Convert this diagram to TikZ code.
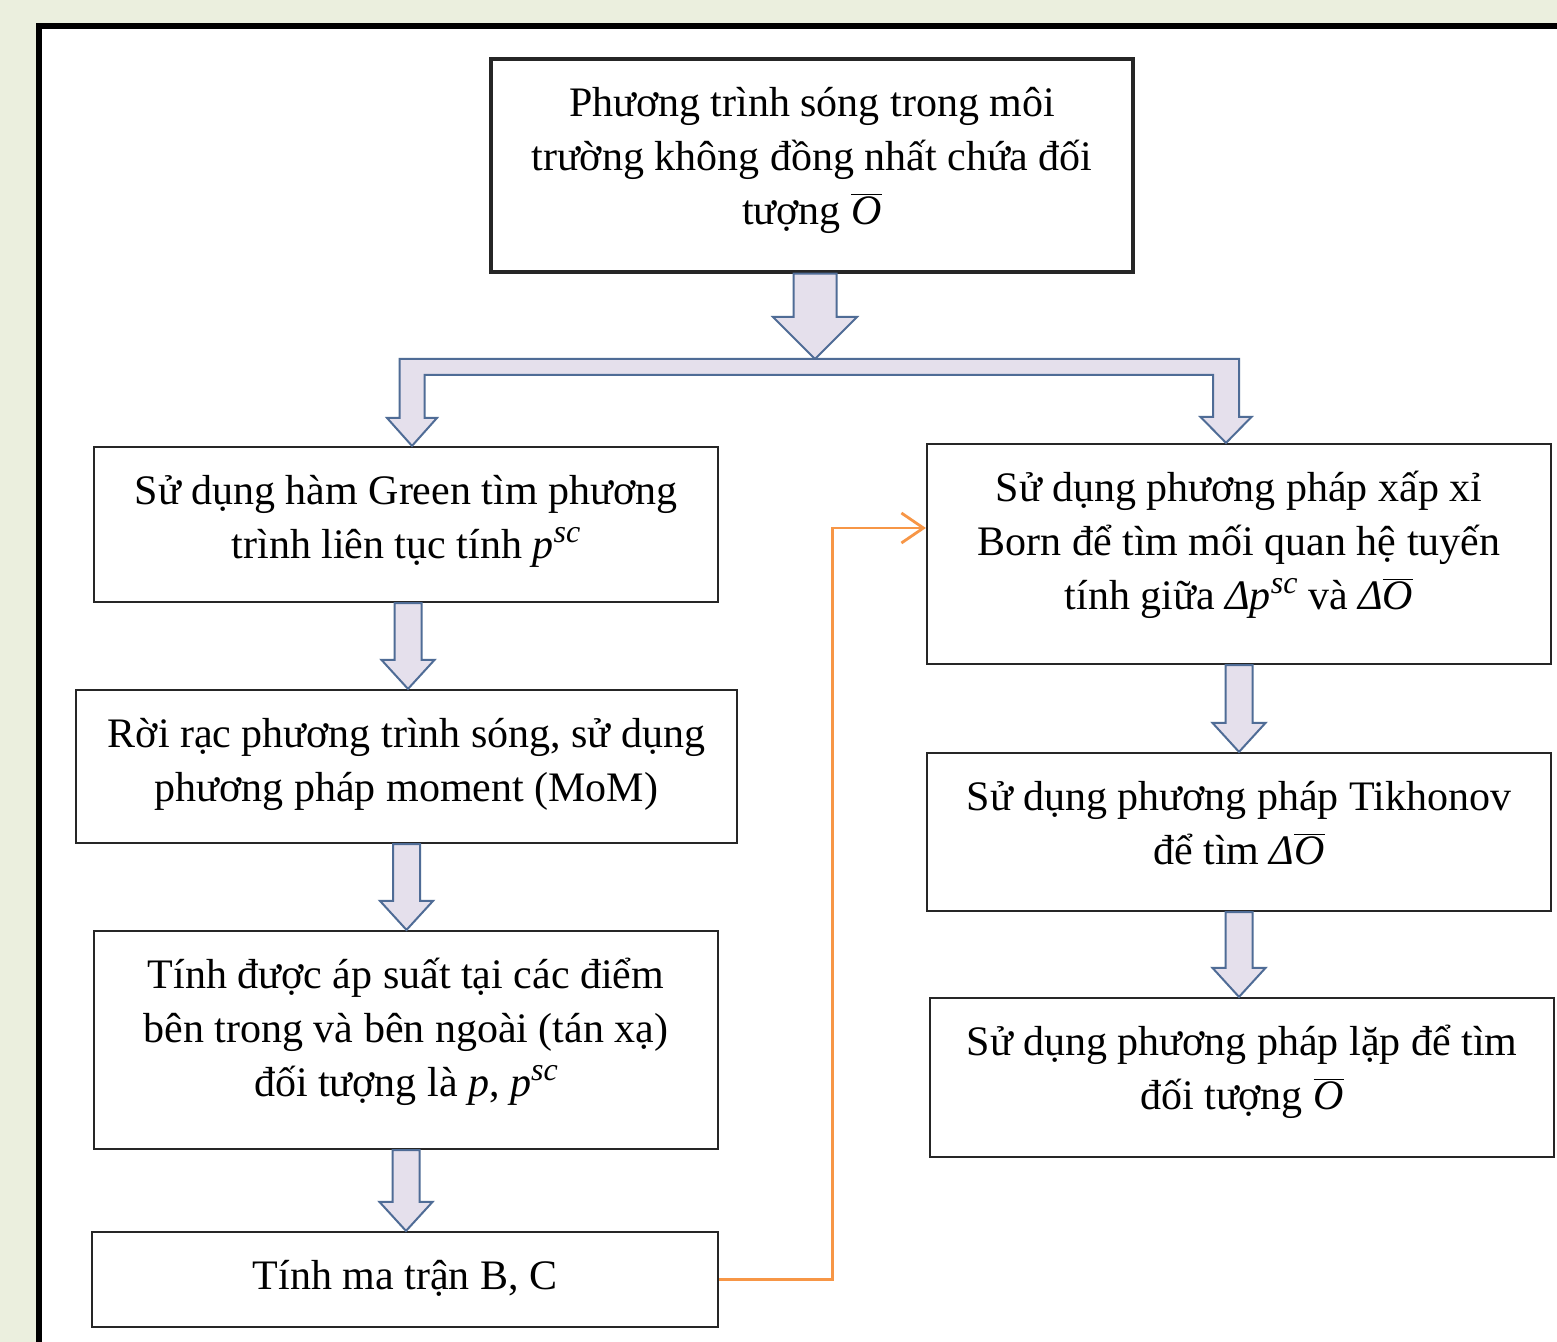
\documentclass[tikz,border=0pt]{standalone}
\usepackage{fontspec}
\setmainfont{Liberation Serif}
\usetikzlibrary{calc,arrows.meta}
\definecolor{bgpage}{RGB}{235,239,222}
\definecolor{arrfill}{RGB}{229,224,236}
\definecolor{arredge}{RGB}{79,108,150}
\definecolor{linkorange}{RGB}{247,150,70}
\newcommand{\Obar}{\ensuremath{\overline{\mbox{\itshape O}}}}
\newcommand{\psc}{\textit{p}\raisebox{8pt}{\fontsize{16}{16}\selectfont\itshape sc}}
\newcommand{\boxtxt}[3]{\parbox[c][\dimexpr#1pt-15pt\relax][t]{#2pt}{\centering\rule[-8.1pt]{0pt}{29.5pt}#3}}
% block arrow: from, to, shaft half, head half, head length
\newcommand{\blockarr}[5]{%
  \draw[blockarr] let \p1=#1, \p2=#2 in
    (\x1-#3,\y1) -- (\x1-#3,\y2+#5) -- (\x1-#4,\y2+#5) -- (\x1,\y2)
    -- (\x1+#4,\y2+#5) -- (\x1+#3,\y2+#5) -- (\x1+#3,\y1) -- cycle;}
\begin{document}
\begin{tikzpicture}[x=0.5pt, y=-0.5pt,
      hop/.style={draw=black!85, line width=1.1pt, inner xsep=0pt, inner ysep=7.5pt,
        font=\fontsize{21}{27}\selectfont},
      blockarr/.style={draw=arredge, fill=arrfill, line width=1pt},
      link/.style={draw=linkorange, line width=1.4pt, -{Straight Barb[length=11pt,width=15pt]}}]
  %Rahmen
  \useasboundingbox (0,0) rectangle (1557,1342);
  \fill[bgpage] (0,0) rectangle (1557,1342);
  \fill[white] (39,26) rectangle (1557,1342);
  \draw[line width=3pt] (39,1342) -- (39,26) -- (1557,26);
  %Kaesten
  \node[hop, line width=1.7pt] (top) at (812,165.5) {\boxtxt{106.5}{321}{Phương trình sóng trong môi\\ trường không đồng nhất chứa đối\\ tượng \Obar}};
  \node[hop] (green) at (406,524.5) {\boxtxt{77.5}{312}{Sử dụng hàm Green tìm phương\\ trình liên tục tính \psc}};
  \node[hop] (mom) at (406.5,766.5) {\boxtxt{76.5}{330.5}{Rời rạc phương trình sóng, sử dụng\\ phương pháp moment (MoM)}};
  \node[hop] (apsuat) at (406,1040) {\boxtxt{109}{312}{Tính được áp suất tại các điểm\\ bên trong và bên ngoài (tán xạ)\\ đối tượng là \textit{p}, \psc}};
  \node[hop] (matran) at (405,1279.5) {\boxtxt{47.5}{313}{Tính ma trận B, C}};
  \node[hop] (born) at (1239,554) {\boxtxt{110}{312}{Sử dụng phương pháp xấp xỉ\\ Born để tìm mối quan hệ tuyến\\ tính giữa \textit{Δ}\psc{} và \textit{Δ}\Obar}};
  \node[hop] (tikh) at (1239,832) {\boxtxt{79}{312}{Sử dụng phương pháp Tikhonov\\ để tìm \textit{Δ}\Obar}};
  \node[hop] (lap) at (1242,1077.5) {\boxtxt{79.5}{312}{Sử dụng phương pháp lặp để tìm\\ đối tượng \Obar}};
  %Verzweigung
  \coordinate (fork) at (815,359);
  \coordinate (forkL) at ([xshift=3pt]green.north);
  \coordinate (forkR) at ([xshift=-6.5pt]born.north);
  \blockarr{([xshift=1.5pt]top.south)}{(fork)}{10.75pt}{21pt}{21pt}
  \draw[blockarr] let \p1=(forkL), \p2=(forkR), \p3=(fork) in
    (\x1-6.25pt,\y3) -- (\x2+6.5pt,\y3) -- (\x2+6.5pt,\y2+13pt) -- (\x2+12.75pt,\y2+13pt)
    -- (\x2,\y2) -- (\x2-12.75pt,\y2+13pt) -- (\x2-6.5pt,\y2+13pt) -- (\x2-6.5pt,\y3-8pt)
    -- (\x1+6.25pt,\y3-8pt) -- (\x1+6.25pt,\y1+14pt) -- (\x1+12.5pt,\y1+14pt) -- (\x1,\y1)
    -- (\x1-12.5pt,\y1+14pt) -- (\x1-6.25pt,\y1+14pt) -- cycle;
  %Pfeile
  \blockarr{([xshift=1pt]green.south)}{(mom.north)}{6.75pt}{13.25pt}{14.5pt}
  \blockarr{(mom.south)}{(apsuat.north)}{6.75pt}{13.25pt}{14.5pt}
  \blockarr{(apsuat.south)}{(matran.north)}{6.75pt}{13.25pt}{14.5pt}
  \blockarr{(born.south)}{(tikh.north)}{6.75pt}{13.25pt}{14.5pt}
  \blockarr{(tikh.south)}{(lap.north)}{6.75pt}{13.25pt}{14.5pt}
  \draw[link] (matran.east) -- ++(113,0) |- ([yshift=13pt]born.west);
\end{tikzpicture}
\end{document}
